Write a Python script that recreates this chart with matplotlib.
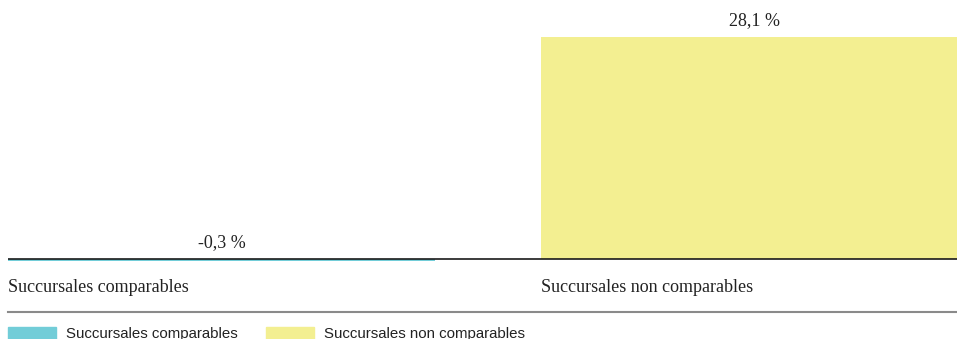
import matplotlib
matplotlib.use("Agg")
import matplotlib.pyplot as plt
from matplotlib.lines import Line2D

categories = ["Succursales comparables", "Succursales non comparables"]
values = [-0.3, 28.1]
value_labels = ["-0,3 %", "28,1 %"]
colors = ["#72CDD8", "#F3EF91"]

W, H = 957, 339
fig = plt.figure(figsize=(W / 100, H / 100), dpi=100)

SERIF = ["Liberation Serif", "DejaVu Serif"]
SANS = ["Liberation Sans Narrow", "Liberation Sans", "DejaVu Sans"]

# axes in pixel geometry: left edge 8 px, baseline at 259 px from top
left_px, right_px = 8, 957
top_px, bottom_px = 0, 266
px_per_unit = 222 / 28.1
period_px = 533
ax = fig.add_axes([left_px / W, 1 - bottom_px / H,
                   (right_px - left_px) / W, (bottom_px - top_px) / H])
ax.set_xlim(0, (right_px - left_px) / period_px)
ax.set_ylim(-(bottom_px - 259) / px_per_unit, 259 / px_per_unit)
ax.axis("off")

x = list(range(len(categories)))
bars = ax.bar(x, values, width=427 / period_px, align="edge",
              color=colors, zorder=2)
ax.axhline(0, color="#1a1a1a", lw=1.2, zorder=3)

for xi, v, lab, b in zip(x, values, value_labels, bars):
    cx = b.get_x() + b.get_width() / 2
    y = max(v, 0)
    ax.annotate(lab, (cx, y), xytext=(0, 6), textcoords="offset points",
                ha="center", va="bottom", fontsize=13, family=SERIF,
                color="#222222")

trans = matplotlib.transforms.blended_transform_factory(ax.transData, fig.transFigure)
for xi, cat in zip(x, categories):
    fig.text(xi, 1 - 288 / H, cat, transform=trans, ha="left", va="center",
             fontsize=13, family=SERIF, color="#222222")

# separator above the legend
fig.add_artist(Line2D([left_px / W, 1], [1 - 312 / H] * 2,
                      transform=fig.transFigure, color="#8a8a8a", lw=1.5))

fs = 10.8
fpx = fs * 100 / 72
handles = [plt.Rectangle((0, 0), 1, 1, color=c) for c in colors]
fig.legend(handles, categories, loc="lower left",
           bbox_to_anchor=(left_px / W, -2 / H), ncol=2, frameon=False,
           borderpad=0, borderaxespad=0,
           handlelength=48 / fpx, handleheight=12 / fpx,
           handletextpad=10 / fpx, columnspacing=28 / fpx,
           prop={"family": SANS, "size": fs}, labelcolor="#222222")

fig.savefig("out.png", dpi=100)
